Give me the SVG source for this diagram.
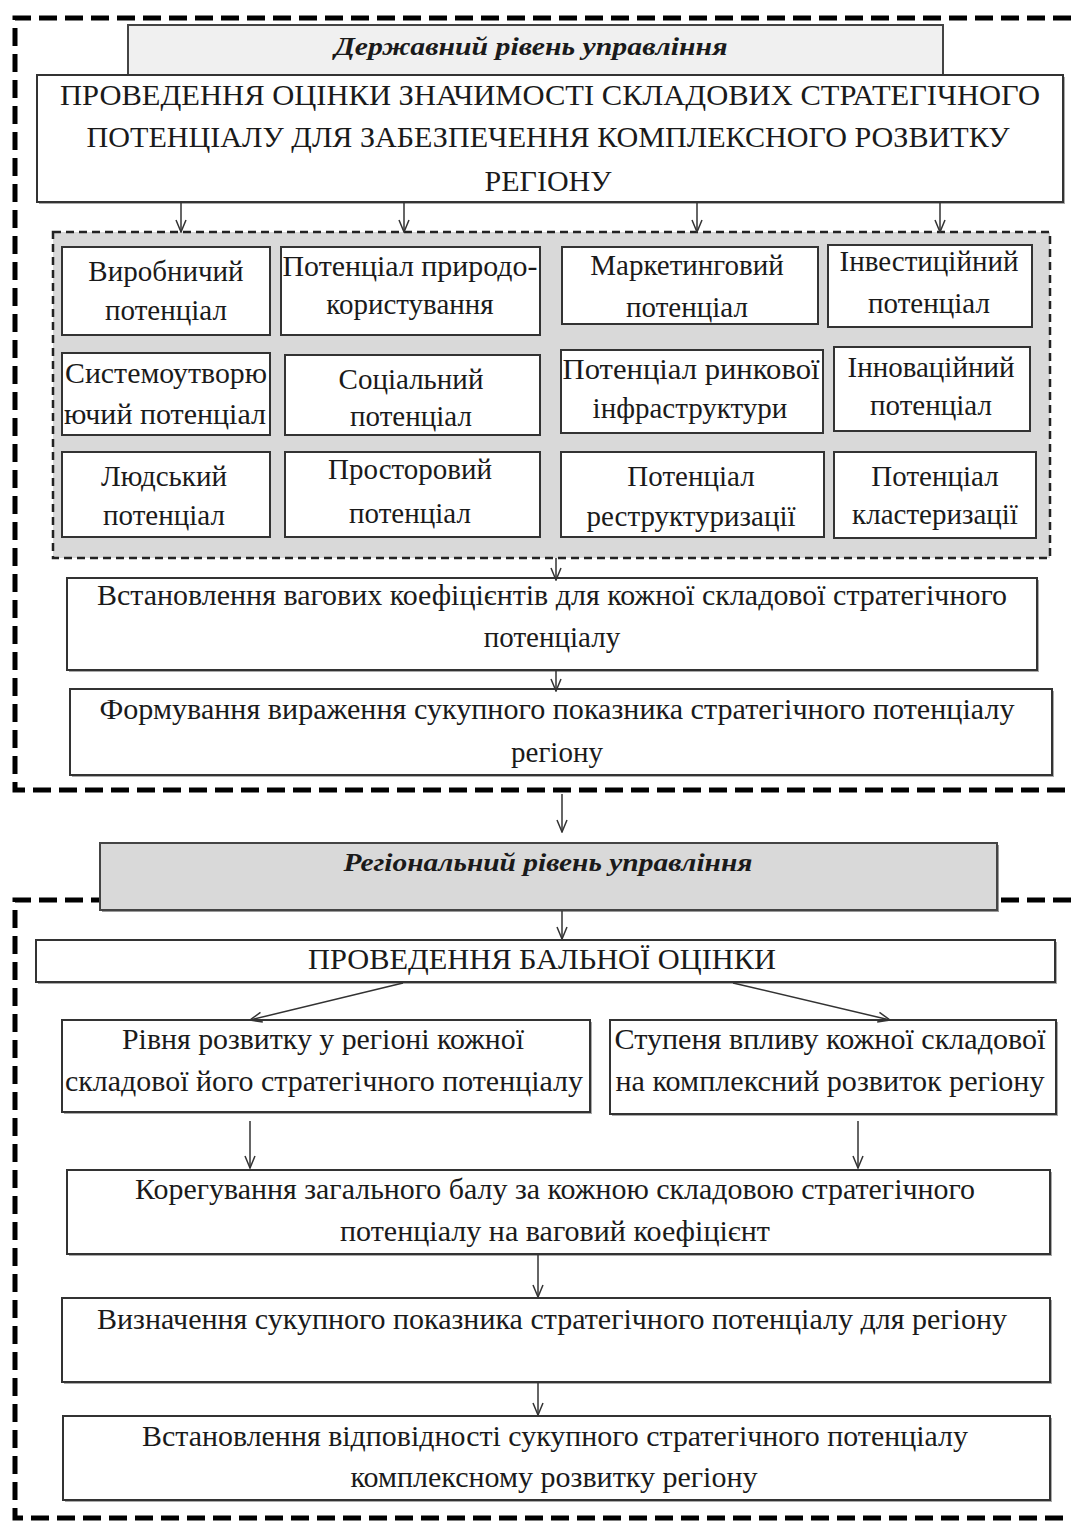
<svg xmlns="http://www.w3.org/2000/svg" width="1071" height="1522" viewBox="0 0 1071 1522">
<style>
.t{font-family:"Liberation Serif","Times New Roman",serif;font-size:29px;fill:#1a1a1a;text-anchor:middle}
.c{font-size:29px}
.h{font-weight:bold;font-style:italic;font-size:26px}
.b{fill:#fff;stroke:#333;stroke-width:2}
.sh{fill:#aaa}
.frame{fill:none;stroke:#000;stroke-width:5;stroke-dasharray:18 8}
.con{stroke:#333;stroke-width:1.5;fill:none;marker-end:url(#ah)}
</style>
<defs>
<marker id="ah" viewBox="0 0 14 12" refX="13" refY="6" markerWidth="14" markerHeight="12" markerUnits="userSpaceOnUse" orient="auto">
<path d="M1,1 L13,6 L1,11" fill="none" stroke="#333" stroke-width="1.5"/>
</marker>
</defs>
<rect width="1071" height="1522" fill="#fff"/>

<g id="frame-state"><path class="frame" d="M1071,18 H15 V790 H1071"/></g>
<g id="frame-region"><path class="frame" d="M1071,900 H15 V1518 H1071"/></g>

<g id="title-state">
<rect x="128" y="25" width="815" height="50" fill="#f0f0f0" stroke="#444" stroke-width="2"/>
<text class="t h" x="531" y="55" textLength="393" lengthAdjust="spacingAndGlyphs">Державний рівень управління</text>
</g>

<g id="n-assess">
<rect class="sh" x="39" y="77" width="1026" height="127"/>
<rect class="b" x="37" y="75" width="1026" height="127"/>
<text class="t" x="550" y="105" textLength="980" lengthAdjust="spacingAndGlyphs">ПРОВЕДЕННЯ ОЦІНКИ ЗНАЧИМОСТІ СКЛАДОВИХ СТРАТЕГІЧНОГО</text>
<text class="t" x="548" y="147" textLength="923" lengthAdjust="spacingAndGlyphs">ПОТЕНЦІАЛУ ДЛЯ ЗАБЕЗПЕЧЕННЯ КОМПЛЕКСНОГО РОЗВИТКУ</text>
<text class="t" x="548" y="191" textLength="127" lengthAdjust="spacingAndGlyphs">РЕГІОНУ</text>
</g>

<g id="grid">
<rect x="53" y="232" width="997" height="326" fill="#d9d9d9" stroke="#222" stroke-width="2.5" stroke-dasharray="8 5"/>
</g>

<g id="c11"><rect class="b" x="62" y="247" width="208" height="88"/>
<text class="t c" x="166" y="281">Виробничий</text><text class="t c" x="166" y="320">потенціал</text></g>
<g id="c12"><rect class="b" x="281" y="247" width="259" height="88"/>
<text class="t c" x="410" y="276" textLength="255" lengthAdjust="spacingAndGlyphs">Потенціал природо-</text><text class="t c" x="410" y="314">користування</text></g>
<g id="c13"><rect class="b" x="562" y="247" width="256" height="77"/>
<text class="t c" x="687" y="275">Маркетинговий</text><text class="t c" x="687" y="317">потенціал</text></g>
<g id="c14"><rect class="b" x="828" y="245" width="204" height="82"/>
<text class="t c" x="929" y="271">Інвестиційний</text><text class="t c" x="929" y="313">потенціал</text></g>

<g id="c21"><rect class="b" x="62" y="353" width="208" height="82"/>
<text class="t c" x="166" y="383" textLength="202" lengthAdjust="spacingAndGlyphs">Системоутворю</text><text class="t c" x="165" y="424" textLength="202" lengthAdjust="spacingAndGlyphs">ючий потенціал</text></g>
<g id="c22"><rect class="b" x="285" y="355" width="255" height="80"/>
<text class="t c" x="411" y="389">Соціальний</text><text class="t c" x="411" y="426">потенціал</text></g>
<g id="c23"><rect class="b" x="561" y="350" width="262" height="83"/>
<text class="t c" x="691" y="379" textLength="257" lengthAdjust="spacingAndGlyphs">Потенціал ринкової</text><text class="t c" x="690" y="418">інфраструктури</text></g>
<g id="c24"><rect class="b" x="834" y="347" width="196" height="84"/>
<text class="t c" x="931" y="377">Інноваційний</text><text class="t c" x="931" y="415">потенціал</text></g>

<g id="c31"><rect class="b" x="62" y="452" width="208" height="85"/>
<text class="t c" x="164" y="486">Людський</text><text class="t c" x="164" y="525">потенціал</text></g>
<g id="c32"><rect class="b" x="285" y="452" width="255" height="85"/>
<text class="t c" x="410" y="479">Просторовий</text><text class="t c" x="410" y="523">потенціал</text></g>
<g id="c33"><rect class="b" x="561" y="452" width="263" height="85"/>
<text class="t c" x="691" y="486">Потенціал</text><text class="t c" x="691" y="526">реструктуризації</text></g>
<g id="c34"><rect class="b" x="834" y="452" width="202" height="86"/>
<text class="t c" x="935" y="486">Потенціал</text><text class="t c" x="935" y="524">кластеризації</text></g>

<g id="n-weights">
<rect class="sh" x="69" y="580" width="970" height="92"/>
<rect class="b" x="67" y="578" width="970" height="92"/>
<text class="t" x="552" y="605" textLength="910" lengthAdjust="spacingAndGlyphs">Встановлення вагових коефіцієнтів для кожної складової стратегічного</text>
<text class="t" x="552" y="647">потенціалу</text>
</g>

<g id="n-form">
<rect class="sh" x="72" y="691" width="982" height="86"/>
<rect class="b" x="70" y="689" width="982" height="86"/>
<text class="t" x="557" y="719" textLength="915" lengthAdjust="spacingAndGlyphs">Формування вираження сукупного показника стратегічного потенціалу</text>
<text class="t" x="557" y="762">регіону</text>
</g>

<g id="title-region">
<rect x="102" y="845" width="897" height="67" fill="#999"/>
<rect x="100" y="843" width="897" height="67" fill="#d9d9d9" stroke="#444" stroke-width="2"/>
<text class="t h" x="548" y="871" textLength="409" lengthAdjust="spacingAndGlyphs">Регіональний рівень управління</text>
</g>

<g id="n-score">
<rect class="sh" x="38" y="942" width="1019" height="42"/>
<rect class="b" x="36" y="940" width="1019" height="42"/>
<text class="t" x="542" y="969" textLength="468" lengthAdjust="spacingAndGlyphs">ПРОВЕДЕННЯ БАЛЬНОЇ ОЦІНКИ</text>
</g>

<g id="n-level">
<rect class="sh" x="64" y="1022" width="528" height="92"/>
<rect class="b" x="62" y="1020" width="528" height="92"/>
<text class="t" x="323" y="1049" textLength="402" lengthAdjust="spacingAndGlyphs">Рівня розвитку у регіоні кожної</text>
<text class="t" x="324" y="1091" textLength="518" lengthAdjust="spacingAndGlyphs">складової його стратегічного потенціалу</text>
</g>

<g id="n-influence">
<rect class="sh" x="612" y="1022" width="446" height="94"/>
<rect class="b" x="610" y="1020" width="446" height="94"/>
<text class="t" x="830" y="1049" textLength="431" lengthAdjust="spacingAndGlyphs">Ступеня впливу кожної складової</text>
<text class="t" x="830" y="1091" textLength="429" lengthAdjust="spacingAndGlyphs">на комплексний розвиток регіону</text>
</g>

<g id="n-correct">
<rect class="sh" x="69" y="1172" width="983" height="84"/>
<rect class="b" x="67" y="1170" width="983" height="84"/>
<text class="t" x="555" y="1199" textLength="840" lengthAdjust="spacingAndGlyphs">Корегування загального балу за кожною складовою стратегічного</text>
<text class="t" x="555" y="1241" textLength="430" lengthAdjust="spacingAndGlyphs">потенціалу на ваговий коефіцієнт</text>
</g>

<g id="n-total">
<rect class="sh" x="64" y="1300" width="988" height="84"/>
<rect class="b" x="62" y="1298" width="988" height="84"/>
<text class="t" x="552" y="1329" textLength="910" lengthAdjust="spacingAndGlyphs">Визначення сукупного показника стратегічного потенціалу для регіону</text>
</g>

<g id="n-match">
<rect class="sh" x="65" y="1418" width="987" height="84"/>
<rect class="b" x="63" y="1416" width="987" height="84"/>
<text class="t" x="555" y="1446" textLength="826" lengthAdjust="spacingAndGlyphs">Встановлення відповідності сукупного стратегічного потенціалу</text>
<text class="t" x="554" y="1487" textLength="407" lengthAdjust="spacingAndGlyphs">комплексному розвитку регіону</text>
</g>

<g id="connectors">
<line class="con" x1="181" y1="203" x2="181" y2="232"/>
<line class="con" x1="404" y1="203" x2="404" y2="232"/>
<line class="con" x1="697" y1="203" x2="697" y2="232"/>
<line class="con" x1="940" y1="203" x2="940" y2="232"/>
<line class="con" x1="556" y1="558" x2="556" y2="580"/>
<line class="con" x1="556" y1="670" x2="556" y2="691"/>
<line class="con" x1="562" y1="794" x2="562" y2="832"/>
<line class="con" x1="562" y1="911" x2="562" y2="939"/>
<line class="con" x1="403" y1="983" x2="250" y2="1020"/>
<line class="con" x1="733" y1="983" x2="890" y2="1020"/>
<line class="con" x1="250" y1="1121" x2="250" y2="1168"/>
<line class="con" x1="858" y1="1121" x2="858" y2="1168"/>
<line class="con" x1="538" y1="1255" x2="538" y2="1297"/>
<line class="con" x1="538" y1="1383" x2="538" y2="1415"/>
</g>
</svg>
